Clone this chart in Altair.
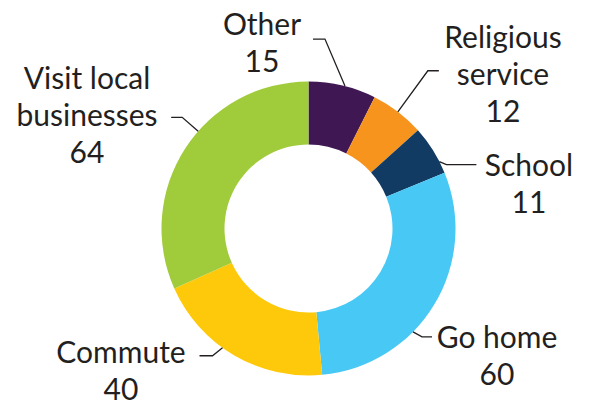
import math
import altair as alt
import pandas as pd

# ---- data ----
categories = ["Other", "Religious service", "School", "Go home", "Commute", "Visit local businesses"]
values = [15, 12, 11, 60, 40, 64]
label_names = [["Other"], ["Religious", "service"], ["School"], ["Go home"], ["Commute"], ["Visit local", "businesses"]]
colors = ["#3F1853", "#F7941E", "#123B63", "#47C8F5", "#FFC90B", "#A0CB3A"]

# ---- layout (page pixel coordinates) ----
W, H = 574, 393
CX, CY = 308.5, 228.5
R_OUT, R_IN = 147, 84
label_pos = [(262, 35), (503, 48), (529, 176), (497, 348), (121, 363), (87, 89)]
anchor_nudge = [1, 0, 5, 13.5, 5.5, 8.4]
elbow = [(-20, -47), (30, -41), (7, 3), (9, 5), (-10, 8), (-16, -14)]
tick = [-12, 11, 30, 10, -13, -11]
TEXT_COLOR = "#231F20"

total = sum(values)
df = pd.DataFrame({"cat": categories, "value": values, "idx": list(range(len(values)))})

# label text rows
txt_rows = []
for i, (c, v) in enumerate(zip(categories, values)):
    txt_rows.append({"cat": c, "x": label_pos[i][0], "y": label_pos[i][1],
                     "text": "\n".join(label_names[i] + [str(v)])})
tdf = pd.DataFrame(txt_rows)

# leader lines derived from slice angles
line_rows = []
cum = 0
for i, v in enumerate(values):
    mid = (cum + v / 2) / total * 360 + anchor_nudge[i]
    cum += v
    a = math.radians(mid)
    ax = CX + R_OUT * math.sin(a)
    ay = CY - R_OUT * math.cos(a)
    bx, by = ax + elbow[i][0], ay + elbow[i][1]
    cx_, cy_ = bx + tick[i], by
    for k, (px, py) in enumerate([(ax, ay), (bx, by), (cx_, cy_)]):
        line_rows.append({"cat": categories[i], "k": k, "x": px, "y": py})
ldf = pd.DataFrame(line_rows)

xs = alt.Scale(domain=[8, 8 + W], nice=False, zero=False)
ys = alt.Scale(domain=[8, 8 + H], nice=False, zero=False, reverse=True)

arcs = alt.Chart(df).mark_arc(innerRadius=R_IN, outerRadius=R_OUT).encode(
    theta=alt.Theta("value:Q", stack=True),
    order=alt.Order("idx:Q"),
    color=alt.Color("cat:N", scale=alt.Scale(domain=categories, range=colors), legend=None),
    x=alt.X(datum=CX, type="quantitative", scale=xs, axis=None),
    y=alt.Y(datum=CY, type="quantitative", scale=ys, axis=None),
)

lines = alt.Chart(ldf).mark_line(color=TEXT_COLOR, strokeWidth=1.3).encode(
    x=alt.X("x:Q", scale=xs, axis=None),
    y=alt.Y("y:Q", scale=ys, axis=None),
    detail="cat:N",
    order="k:Q",
)

texts = alt.Chart(tdf).mark_text(
    align="center", baseline="alphabetic", lineBreak="\n", lineHeight=37,
    font="Lato", fontSize=30, color=TEXT_COLOR,
).encode(
    x=alt.X("x:Q", scale=xs, axis=None),
    y=alt.Y("y:Q", scale=ys, axis=None),
    text="text:N",
)

chart = alt.layer(arcs, lines, texts).properties(
    width=W, height=H, padding=0, autosize=alt.AutoSizeParams(type="none")
).configure_view(stroke=None)

chart.save("out.html", embed_options={"renderer": "svg", "actions": False})
